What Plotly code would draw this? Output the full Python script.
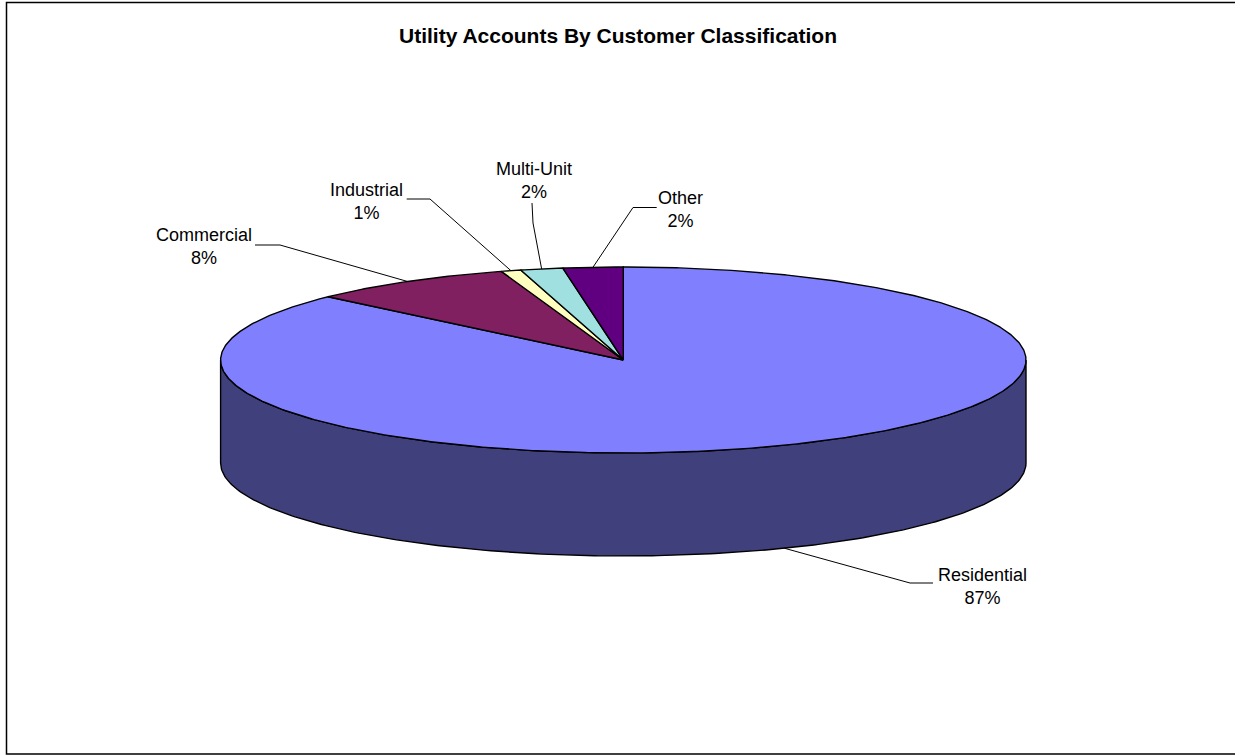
import numpy as np
import plotly.graph_objects as go

# ---- data ----
categories = ["Residential", "Commercial", "Industrial", "Multi-Unit", "Other"]
shares = [86.9, 8.2, 0.8, 1.7, 2.4]
title_text = "Utility Accounts By Customer Classification"

# ---- styles / layout constants ----
top_colors = ["#8080FF", "#802060", "#FFFFC0", "#A0E0E0", "#600080"]
side_colors = ["#40407C", "#401030", "#80805F", "#507070", "#300040"]
W, H = 1235, 755
CX, CY = 623.3, 360.0      # centre of top face (pixels)
RX, RY = 402.7, 93.0       # ellipse semi-axes
DEPTH = 103.0              # pie thickness
FONT = "Liberation Sans, Arial, sans-serif"

# label centre and elbow of leader line (layout positions)
label_pos = {
    "Residential": (982, 586),
    "Commercial": (203.5, 246),
    "Industrial": (366.7, 201),
    "Multi-Unit": (534, 180),
    "Other": (680, 209),
}
leader_start = {
    "Residential": [(933, 583), (910, 583)],
    "Commercial": [(255, 245), (280, 245)],
    "Industrial": [(406.7, 199), (430, 199)],
    "Multi-Unit": [(532, 203), (533, 223)],
    "Other": [(656.7, 207.5), (633, 207.5)],
}


def pt(phi_deg, dz=0.0):
    p = np.radians(phi_deg)
    return CX + RX * np.sin(p), CY - RY * np.cos(p) + dz


fig = go.Figure()

total = float(sum(shares))
angles = np.cumsum([0.0] + [s / total * 360.0 for s in shares])

# side walls (front half visible: phi 90..270)
for i, cat in enumerate(categories):
    a0, a1 = max(angles[i], 90.0), min(angles[i + 1], 270.0)
    if a1 <= a0:
        continue
    ph = np.linspace(a0, a1, 240)
    xt, yt = pt(ph)
    xb, yb = pt(ph[::-1], DEPTH)
    xs = np.concatenate([xt, xb, xt[:1]])
    ys = np.concatenate([yt, yb, yt[:1]])
    fig.add_trace(go.Scatter(x=xs, y=ys, mode="lines", fill="toself",
                             fillcolor=side_colors[i],
                             line=dict(color="black", width=1.4),
                             hoverinfo="skip", showlegend=False))

# top face slices
for i, cat in enumerate(categories):
    ph = np.linspace(angles[i], angles[i + 1], max(8, int((angles[i + 1] - angles[i]) * 2)))
    xa, ya = pt(ph)
    xs = np.concatenate([[CX], xa, [CX]])
    ys = np.concatenate([[CY], ya, [CY]])
    fig.add_trace(go.Scatter(x=xs, y=ys, mode="lines", fill="toself",
                             fillcolor=top_colors[i],
                             line=dict(color="black", width=1.4),
                             hoverinfo="skip", showlegend=False))

# leader lines and labels
annotations = []
for i, cat in enumerate(categories):
    mid = (angles[i] + angles[i + 1]) / 2.0
    if 90 < mid < 270:
        ex, ey = pt(mid, DEPTH)
    else:
        ex, ey = pt(mid)
    pts = leader_start[cat] + [(ex, ey)]
    fig.add_trace(go.Scatter(x=[p[0] for p in pts], y=[p[1] for p in pts],
                             mode="lines", line=dict(color="black", width=1),
                             hoverinfo="skip", showlegend=False))
    pct = int(round(shares[i] / total * 100))
    lx, ly = label_pos[cat]
    annotations.append(dict(x=lx, y=ly, xref="x", yref="y",
                            text=f"{cat}<br>{pct}%", showarrow=False,
                            align="center",
                            font=dict(family=FONT, size=18, color="black")))

annotations.append(dict(x=618, y=35, xref="x", yref="y",
                        text=f"<b>{title_text}</b>", showarrow=False,
                        font=dict(family=FONT, size=21, color="black")))

fig.update_layout(
    width=W, height=H,
    margin=dict(l=0, r=0, t=0, b=0),
    paper_bgcolor="white", plot_bgcolor="white",
    xaxis=dict(range=[0, W], visible=False, fixedrange=True),
    yaxis=dict(range=[H, 0], visible=False, fixedrange=True),
    annotations=annotations,
    shapes=[dict(type="rect", xref="x", yref="y", x0=6.5, y0=2.5, x1=W + 10, y1=754,
                 line=dict(color="black", width=1.5), layer="above")],
)

fig.write_html("out.html")
